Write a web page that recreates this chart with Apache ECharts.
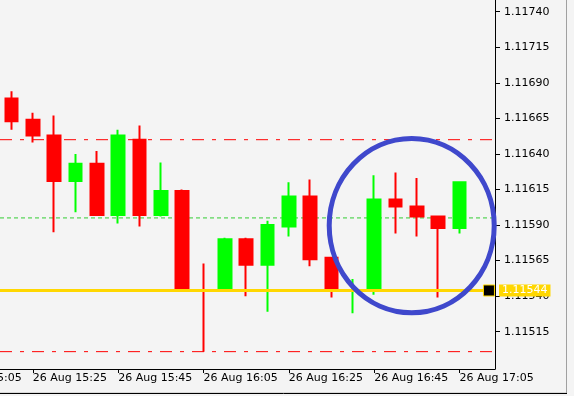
<!DOCTYPE html>
<html><head><meta charset="utf-8">
<script src="https://cdn.jsdelivr.net/npm/echarts@6/dist/echarts.min.js"></script>
<style>html,body{margin:0;padding:0;background:#f4f4f4}#c{width:574px;height:396px}</style>
</head><body><div id="c"></div>
<script>
// ---- data ----
const dateLabel = '26 Aug';
const times = ['15:20','15:25','15:30','15:35','15:40','15:45','15:50','15:55','16:00','16:05','16:10',
  '16:15','16:20','16:25','16:30','16:35','16:40','16:45','16:50','16:55','17:00','17:05'];
const opens  = [1.11679,1.11664,1.11653,1.11621,1.11633,1.11597,1.11650,1.11597,1.11614,1.115442,1.11544,
  1.11580,1.11562,1.11589,1.11610,1.11567,1.115438,1.11544,1.11608,1.11603,1.11596,1.11588];
const closes = [1.11663,1.11653,1.11621,1.11633,1.11597,1.11653,1.11597,1.11614,1.11544,1.11544,1.11580,
  1.11562,1.11590,1.11610,1.11566,1.11544,1.11544,1.11608,1.11603,1.11596,1.11588,1.11620];
const lows   = [1.11657,1.11648,1.11585,1.11599,1.11597,1.11591,1.11589,1.11596,1.11543,1.11501,1.11543,
  1.11540,1.11529,1.11582,1.11561,1.11539,1.11528,1.11541,1.11584,1.11582,1.11539,1.11584];
const highs  = [1.11684,1.11669,1.11667,1.11640,1.11642,1.11657,1.11660,1.11634,1.11615,1.11563,1.11581,
  1.11581,1.11593,1.11620,1.11622,1.11567,1.11552,1.11625,1.11627,1.11623,1.11596,1.11620];
const xTickIdx = [1,5,9,13,17,21];
const prevLabel = '26 Aug 15:05';
const prevLabelIdx = -3;
const yTicks = [1.11515,1.11540,1.11565,1.11590,1.11615,1.11640,1.11665,1.11690,1.11715,1.11740];
const levelRed = [1.11650, 1.11501];
const levelGreen = 1.11595;
const currentPrice = 1.11544;
const circleCenter = [18.76, 1.115896];

// ---- layout ----
const X_MIN = -0.539, X_MAX = 22.664;
const Y_MIN = 1.114888, Y_MAX = 1.117482;
const BOX_X = 22.38;
const FONT = 'DejaVu Sans';

const candleData = times.map((t, i) => [i, opens[i], closes[i], lows[i], highs[i]]);
const hLine = v => [[X_MIN, v], [X_MAX, v]];

const chart = echarts.init(document.getElementById('c'), null, {renderer: 'canvas'});
chart.setOption({
  animation: false,
  backgroundColor: '#f4f4f4',
  grid: {left: 0, top: 0, right: 79, bottom: 27, containLabel: false},
  xAxis: {
    type: 'value', min: X_MIN, max: X_MAX, splitLine: {show: false},
    axisLine: {show: true, onZero: false, lineStyle: {color: '#000', width: 1}},
    axisTick: {show: true, length: 4, customValues: xTickIdx, lineStyle: {color: '#000'}},
    axisLabel: {show: true, customValues: xTickIdx, align: 'left', margin: 4,
      color: '#000', fontFamily: FONT, fontSize: 11,
      formatter: v => dateLabel + ' ' + times[Math.round(v)]}
  },
  yAxis: {
    type: 'value', position: 'right', min: Y_MIN, max: Y_MAX, scale: true,
    splitLine: {show: false},
    axisLine: {show: true, onZero: false, lineStyle: {color: '#000', width: 1}},
    axisTick: {show: true, length: 5, customValues: yTicks, lineStyle: {color: '#000'}},
    axisLabel: {show: true, customValues: yTicks, margin: 9, color: '#000',
      fontFamily: FONT, fontSize: 11, formatter: v => v.toFixed(5)}
  },
  series: [
    {type: 'line', z: 1, data: hLine(levelRed[0]), showSymbol: false, silent: true,
      lineStyle: {color: '#ff0000', width: 1, type: [12, 8, 4, 8]}},
    {type: 'line', z: 1, data: hLine(levelRed[1]), showSymbol: false, silent: true,
      lineStyle: {color: '#ff0000', width: 1, type: [12, 8, 4, 8]}},
    {type: 'line', z: 1, data: hLine(levelGreen), showSymbol: false, silent: true,
      lineStyle: {color: '#32cd32', width: 1, type: [4, 3]}},
    {type: 'candlestick', z: 2, data: candleData, barWidth: 13,
      itemStyle: {color: '#00ff00', color0: '#ff0000', borderColor: '#00ff00', borderColor0: '#ff0000', borderWidth: 2}},
    {type: 'line', z: 3, data: hLine(currentPrice), showSymbol: false, silent: true, clip: false,
      lineStyle: {color: '#ffd700', width: 3},
      endLabel: {show: true, formatter: () => currentPrice.toFixed(5), color: '#fff',
        backgroundColor: '#ffd700', fontFamily: FONT, fontSize: 11, padding: [0, 3, 0, 3],
        lineHeight: 12, distance: 4},
      markPoint: {symbol: 'rect', symbolSize: 11, silent: true, label: {show: false},
        itemStyle: {color: '#000', borderColor: '#ffd700', borderWidth: 1},
        data: [{coord: [BOX_X, currentPrice]}]}}
  ]
});

const c = chart.convertToPixel({xAxisIndex: 0, yAxisIndex: 0}, circleCenter);
const p = chart.convertToPixel({xAxisIndex: 0, yAxisIndex: 0}, [prevLabelIdx, Y_MIN]);
chart.setOption({
  graphic: [
    {type: 'ellipse', z: 100, shape: {cx: c[0], cy: c[1], rx: 82.5, ry: 87.2},
      style: {fill: null, stroke: '#3f48cc', lineWidth: 5}},
    {type: 'text', z: 10, x: p[0], y: p[1] + 4,
      style: {text: prevLabel, fill: '#000', font: '11px "DejaVu Sans"', textAlign: 'left', textVerticalAlign: 'top'}},
    {type: 'line', z: 10, shape: {x1: 0, y1: 392.5, x2: 566, y2: 392.5}, style: {stroke: '#d8d8d8', lineWidth: 1}},
    {type: 'line', z: 10, shape: {x1: 0, y1: 393.5, x2: 567, y2: 393.5}, style: {stroke: '#000', lineWidth: 1}},
    {type: 'line', z: 10, shape: {x1: 566.5, y1: 0, x2: 566.5, y2: 393}, style: {stroke: '#a0a0a0', lineWidth: 1}}
  ]
});
</script></body></html>
